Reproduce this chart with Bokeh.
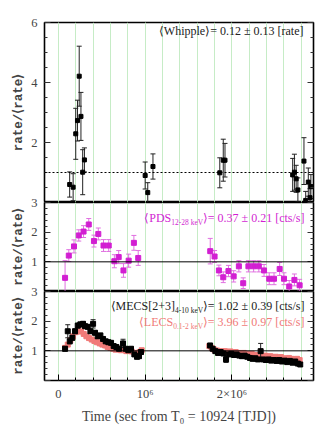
from bokeh.plotting import figure
from bokeh.layouts import column
from bokeh.models import Range1d, FixedTicker, LinearAxis, Span, Label, CustomJSTickFormatter
from bokeh.embed import file_html
from bokeh.resources import INLINE

# ---------------- data (time: seconds from T0; rate / <rate>) ----------------
whip_t = [0.13e6, 0.17e6, 0.20e6, 0.22e6, 0.24e6, 0.26e6, 0.28e6, 0.30e6,
          1.00e6, 1.03e6, 1.09e6, 1.86e6, 1.90e6, 1.92e6,
          2.70e6, 2.72e6, 2.74e6, 2.76e6, 2.83e6, 2.85e6, 2.88e6, 2.90e6, 2.91e6]
whip_v = [0.60, 0.51, 2.29, 2.73, 4.21, 2.87, 1.01, 1.42,
          0.90, 0.33, 1.20, 0.99, 1.41, 1.41,
          0.92, 1.01, 0.79, 0.42, 1.38, 0.07, 0.68, 0.16, 0.53]
whip_e = [0.42, 0.45, 0.85, 0.68, 1.00, 0.80, 0.75, 0.40,
          0.45, 0.33, 0.42, 0.50, 0.70, 0.56,
          0.55, 0.60, 0.45, 0.40, 0.78, 0.30, 0.47, 0.30, 0.40]

pds_t = [0.077e6, 0.12e6, 0.18e6, 0.235e6, 0.29e6, 0.35e6, 0.41e6, 0.46e6, 0.52e6,
         0.58e6, 0.645e6, 0.695e6, 0.75e6, 0.81e6, 0.87e6, 0.92e6,
         1.75e6, 1.80e6, 1.85e6, 1.90e6, 1.96e6, 2.02e6, 2.08e6, 2.13e6, 2.19e6,
         2.25e6, 2.31e6, 2.37e6, 2.43e6, 2.485e6, 2.55e6, 2.60e6, 2.66e6, 2.72e6, 2.78e6]
pds_v = [0.46, 1.21, 1.52, 1.89, 2.02, 2.26, 1.70, 1.94, 1.55,
         1.55, 1.02, 1.16, 0.71, 1.04, 1.64, 1.13,
         1.36, 1.18, 0.71, 0.48, 0.69, 0.51, 0.85, 0.28, 0.85,
         0.85, 0.85, 0.71, 0.43, 0.43, 0.76, 0.43, 0.17, 0.39, 0.21]
pds_e = [0.58, 0.20, 0.22, 0.19, 0.20, 0.20, 0.20, 0.20, 0.20,
         0.20, 0.22, 0.22, 0.23, 0.22, 0.25, 0.25,
         0.43, 0.20, 0.18, 0.18, 0.19, 0.19, 0.19, 0.18, 0.19,
         0.19, 0.19, 0.20, 0.20, 0.20, 0.22, 0.20, 0.20, 0.20, 0.20]

mecs_t = [0.077e6, 0.108e6, 0.131e6, 0.161e6, 0.192e6, 0.223e6, 0.253e6, 0.284e6,
          0.307e6, 0.338e6, 0.369e6, 0.400e6, 0.422e6, 0.453e6, 0.484e6, 0.515e6,
          0.545e6, 0.576e6, 0.607e6, 0.637e6, 0.668e6, 0.699e6, 0.745e6, 0.776e6,
          0.806e6, 0.837e6, 0.876e6, 0.906e6, 0.929e6, 0.952e6,
          1.748e6, 1.778e6, 1.809e6, 1.840e6, 1.870e6, 1.901e6, 1.932e6, 1.962e6,
          1.993e6, 2.024e6, 2.054e6, 2.085e6, 2.116e6, 2.146e6, 2.177e6, 2.208e6,
          2.239e6, 2.269e6, 2.300e6, 2.331e6, 2.361e6, 2.392e6, 2.423e6, 2.453e6,
          2.484e6, 2.515e6, 2.545e6, 2.576e6, 2.607e6, 2.637e6, 2.668e6, 2.699e6,
          2.729e6, 2.760e6, 2.787e6]
mecs_v = [1.07, 1.66, 1.32, 1.44, 1.66, 1.85, 1.89, 1.91,
          1.83, 1.81, 1.66, 1.91, 1.61, 1.49, 1.52, 1.40,
          1.32, 1.29, 1.27, 1.16, 1.13, 1.07, 1.25, 1.07,
          1.02, 1.07, 0.88, 0.80, 0.82, 0.96,
          1.18, 1.07, 0.99, 0.93, 0.96, 0.91, 0.71, 0.88,
          0.90, 0.86, 0.88, 0.84, 0.82, 0.84, 0.80, 0.76,
          0.73, 0.75, 0.71, 0.99, 0.71, 0.69, 0.71, 0.67,
          0.69, 0.66, 0.69, 0.64, 0.67, 0.62, 0.66, 0.60,
          0.64, 0.57, 0.54]
mecs_e = [0.08, 0.22, 0.08, 0.08, 0.08, 0.08, 0.08, 0.08,
          0.07, 0.07, 0.07, 0.14, 0.07, 0.07, 0.07, 0.06,
          0.06, 0.06, 0.06, 0.06, 0.06, 0.06, 0.14, 0.06,
          0.06, 0.06, 0.07, 0.07, 0.07, 0.07,
          0.07, 0.06, 0.06, 0.06, 0.06, 0.06, 0.10, 0.06,
          0.06, 0.06, 0.06, 0.06, 0.06, 0.06, 0.06, 0.06,
          0.06, 0.06, 0.06, 0.26, 0.06, 0.06, 0.06, 0.06,
          0.06, 0.06, 0.06, 0.06, 0.06, 0.06, 0.06, 0.06,
          0.06, 0.06, 0.06]

lecs_t = [0.077e6, 0.108e6, 0.138e6, 0.169e6, 0.200e6, 0.230e6, 0.261e6, 0.292e6,
          0.323e6, 0.353e6, 0.384e6, 0.415e6, 0.445e6, 0.476e6, 0.507e6, 0.538e6,
          0.568e6, 0.599e6, 0.630e6, 0.660e6, 0.691e6, 0.722e6, 0.753e6, 0.783e6,
          0.814e6, 0.845e6, 0.876e6, 0.906e6, 0.937e6, 0.960e6,
          1.740e6, 1.766e6, 1.797e6, 1.828e6, 1.859e6, 1.889e6, 1.920e6, 1.951e6,
          1.982e6, 2.012e6, 2.043e6, 2.074e6, 2.104e6, 2.135e6, 2.166e6, 2.197e6,
          2.227e6, 2.258e6, 2.289e6, 2.319e6, 2.350e6, 2.381e6, 2.412e6, 2.442e6,
          2.473e6, 2.504e6, 2.535e6, 2.565e6, 2.596e6, 2.627e6, 2.657e6, 2.688e6,
          2.719e6, 2.750e6, 2.780e6]
lecs_v = [1.10, 1.21, 1.36, 1.49, 1.63, 1.70, 1.65, 1.57,
          1.49, 1.43, 1.38, 1.33, 1.29, 1.25, 1.21, 1.18,
          1.13, 1.10, 1.07, 1.04, 1.07, 1.02, 1.04, 0.99,
          1.02, 0.98, 0.93, 0.91, 0.96, 1.02,
          1.16, 1.10, 1.04, 1.01, 0.99, 0.97, 0.99, 0.96,
          0.98, 0.93, 0.96, 0.93, 0.91, 0.93, 0.90, 0.88,
          0.90, 0.86, 0.84, 0.86, 0.82, 0.84, 0.80, 0.82,
          0.77, 0.80, 0.76, 0.79, 0.75, 0.73, 0.76, 0.73,
          0.71, 0.73, 0.69]
lecs_e = [0.05] * 65

x_major = [0, 1000000, 2000000]
x_labels = {0: "0", 1000000: "10⁶", 2000000: "2×10⁶"}
x_minor = list(range(-200000, 3000001, 200000))

top_major = [0, 2, 4, 6]
top_labels = {0: "", 2: "2", 4: "4", 6: "6"}
top_minor = [i * 0.5 for i in range(13)]
low_major = [0, 1, 2, 3]
low_labels = {0: "", 1: "1", 2: "2", 3: "3"}
low_minor = [i * 0.2 for i in range(16)]

GREEN = "#c6ecc6"
SERIF = "Liberation Serif"
MONO = "Liberation Mono"
MAG = "#d21fd2"
MAG_BAR = "#e070e0"
SALMON = "#f07a78"
W = 320
XR = (-1.6e5, 2.94e6)

# approximate Times/Liberation Serif advance widths (per 1000 em) for text layout
ADV = {" ": 250, ".": 250, "=": 564, "±": 549, "[": 333, "]": 333, "/": 278, "-": 333,
       "+": 564, "⟨": 390, "⟩": 390, "a": 444, "c": 444, "e": 444, "i": 278, "k": 500,
       "l": 278, "p": 500, "r": 333, "s": 389, "t": 278, "h": 500, "C": 667, "D": 722,
       "E": 611, "L": 611, "M": 889, "P": 556, "S": 556, "V": 722, "W": 944}


def tw(s, size):
    return sum(ADV.get(ch, 500) for ch in s) / 1000.0 * size


def make_fig(height, yr, ymaj, ylab, ymin, top_border, bottom_border, margin):
    p = figure(width=W, height=height, output_backend="svg",
               toolbar_location=None, x_range=Range1d(*XR),
               y_range=Range1d(*yr), min_border_left=44, min_border_right=7,
               min_border_top=top_border, min_border_bottom=bottom_border,
               background_fill_color="white", border_fill_color=None,
               outline_line_color="black", outline_line_width=1.6,
               margin=margin)
    xt = FixedTicker(ticks=x_major, minor_ticks=x_minor)
    p.xaxis.ticker = xt
    p.xgrid.ticker = xt
    p.xgrid.grid_line_color = GREEN
    p.xgrid.minor_grid_line_color = GREEN
    p.xgrid.grid_line_width = 1
    p.ygrid.visible = False
    yt = FixedTicker(ticks=ymaj, minor_ticks=ymin)
    ya = p.yaxis[0]
    ya.ticker = yt
    ya.major_label_overrides = ylab
    ya.axis_label = "rate/⟨rate⟩"
    ya.axis_label_text_font = MONO
    ya.axis_label_text_font_style = "bold"
    ya.axis_label_text_font_size = "12.5px"
    ya.axis_label_standoff = 2
    ya.major_label_text_font = SERIF
    ya.major_label_text_font_size = "12.5px"
    ya.major_label_standoff = 7
    ya.axis_line_color = None
    ya.major_tick_in = 6
    ya.major_tick_out = 0
    ya.minor_tick_in = 3
    ya.minor_tick_out = 0
    ya.major_tick_line_color = "#333"
    ya.minor_tick_line_color = "#333"
    ra = LinearAxis(ticker=yt, formatter=CustomJSTickFormatter(code="return ''"),
                    axis_line_color=None, major_tick_in=6, major_tick_out=0,
                    minor_tick_in=3, minor_tick_out=0, major_label_standoff=0,
                    major_tick_line_color="#333", minor_tick_line_color="#333")
    p.add_layout(ra, "right")
    return p


def errbars(p, t, v, e, color, bar_color, size, cap=5):
    lo = [a - b for a, b in zip(v, e)]
    hi = [a + b for a, b in zip(v, e)]
    p.segment(x0=t, y0=lo, x1=t, y1=hi, line_color=bar_color, line_width=1)
    p.scatter(x=t + t, y=lo + hi, marker="dash", size=cap, line_color=bar_color, line_width=1)
    p.scatter(x=t, y=v, marker="square", size=size, fill_color=color, line_color=color)


def label_parts(p, ytop, head, sub, tail, dy, color, size=12, sub_size=7.5):
    # right-aligned chain: tail ends 9 px left of the frame's right edge
    right = -9
    for txt, fs, off in [(tail, size, 0), (sub, sub_size, 4.5), (head, size, 0)]:
        p.add_layout(Label(x=XR[1], y=ytop, x_offset=right, y_offset=-(dy + off),
                           text=txt, text_align="right", text_baseline="middle",
                           text_font=SERIF, text_font_size=f"{fs}px", text_color=color))
        right -= tw(txt, fs)


# ---- top panel ----
p1 = make_fig(202, (0, 6), top_major, top_labels, top_minor, 22, 0, (0, 0, 0, 0))
p1.xaxis.visible = False
p1.add_layout(Span(location=1, dimension="width", line_color="black",
                   line_dash="2 2", line_width=1))
errbars(p1, whip_t, whip_v, whip_e, "black", "#222", 4)
p1.add_layout(Label(x=XR[1], y=6, x_offset=-10, y_offset=-8, text_align="right",
                    text_baseline="middle", text="⟨Whipple⟩= 0.12 ± 0.13 [rate]",
                    text_font=SERIF, text_font_size="12px", text_color="#222"))

# ---- middle panel ----
p2 = make_fig(95, (0, 3), low_major, low_labels, low_minor, 6, 0, (-6, 0, 0, 0))
p2.xaxis.visible = False
p2.add_layout(Span(location=1, dimension="width", line_color="black", line_width=1))
errbars(p2, pds_t, pds_v, pds_e, MAG, MAG_BAR, 5)
label_parts(p2, 3, "⟨PDS", "12-28 keV", "⟩= 0.37 ± 0.21 [cts/s]", 15, MAG)

# ---- bottom panel ----
p3 = make_fig(141, (0, 3), low_major, low_labels, low_minor, 6, 45, (-6, 0, 0, 0))
p3.add_layout(Span(location=1, dimension="width", line_color="black", line_width=1))
errbars(p3, lecs_t, lecs_v, lecs_e, SALMON, SALMON, 5)
errbars(p3, mecs_t, mecs_v, mecs_e, "black", "#222", 5)
label_parts(p3, 3, "⟨MECS[2+3]", "4-10 keV", "⟩= 1.02 ± 0.39 [cts/s]", 14, "#222")
label_parts(p3, 3, "⟨LECS", "0.1-2 keV", "⟩= 3.96 ± 0.97 [cts/s]", 30.5, SALMON)
xa = p3.xaxis[0]
xa.major_label_overrides = x_labels
xa.major_label_text_font = SERIF
xa.major_label_text_font_size = "12.5px"
xa.major_label_standoff = 6
xa.axis_label = "Time (sec from T₀ = 10924 [TJD])"
xa.axis_label_text_font = SERIF
xa.axis_label_text_font_style = "normal"
xa.axis_label_text_font_size = "14px"
xa.axis_label_standoff = 5
xa.axis_line_color = None
xa.major_tick_in = 6
xa.major_tick_out = 0
xa.minor_tick_in = 3
xa.minor_tick_out = 0

layout = column(p1, p2, p3, spacing=0)
open("out.html", "w").write(file_html(layout, INLINE))
